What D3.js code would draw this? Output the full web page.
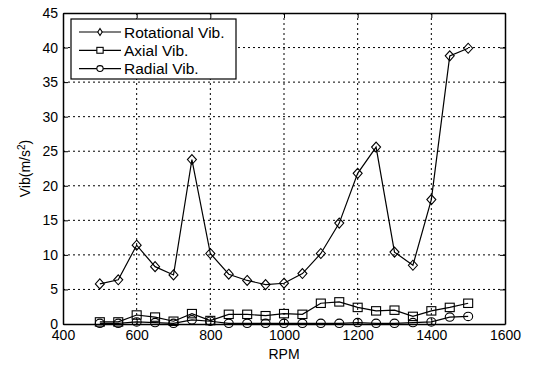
<!DOCTYPE html>
<html>
<head>
<meta charset="utf-8">
<script src="https://cdn.jsdelivr.net/npm/d3@7"></script>
<style>
  body { margin: 0; background: #fff; }
  text { font-family: "Liberation Sans", Arial, sans-serif; }
</style>
</head>
<body>
<svg id="drawspace" width="535" height="365"></svg>
<script>
let drawSpace = d3.select("#drawspace");

let rpm = [500, 550, 600, 650, 700, 750, 800, 850, 900, 950, 1000,
  1050, 1100, 1150, 1200, 1250, 1300, 1350, 1400, 1450, 1500];
let rotational = [5.8, 6.4, 11.4, 8.3, 7.1, 23.8, 10.2, 7.2, 6.3, 5.7, 5.9,
  7.3, 10.2, 14.6, 21.8, 25.6, 10.4, 8.5, 18.0, 38.8, 39.9];
let axial = [0.3, 0.3, 1.3, 1.0, 0.4, 1.5, 0.5, 1.4, 1.4, 1.2, 1.5,
  1.4, 3.0, 3.2, 2.4, 1.9, 2.0, 1.1, 1.9, 2.4, 3.0];
let radial = [0.1, 0.1, 0.3, 0.2, 0.1, 0.6, 0.4, 0.1, 0.1, 0.1, 0.1,
  0.1, 0.1, 0.1, 0.2, 0.1, 0.1, 0.2, 0.3, 1.0, 1.1];
let seriesNames = ["Rotational Vib.", "Axial Vib.", "Radial Vib."];
let seriesMarks = ["diamond", "square", "circle"];
let xTicks = [400, 600, 800, 1000, 1200, 1400, 1600];
let yTicks = [0, 5, 10, 15, 20, 25, 30, 35, 40, 45];

let pLeft = 63, pRight = 505, pTop = 13, pBottom = 324;

let x = d3.scaleLinear().domain([400, 1600]).range([pLeft, pRight]);
let y = d3.scaleLinear().domain([0, 45]).range([pBottom, pTop]);

// grid
let grid = drawSpace.append("g");
grid.selectAll(".gx").data(xTicks.slice(1, -1)).enter().append("line")
  .attr("x1", d => x(d)).attr("x2", d => x(d))
  .attr("y1", pTop).attr("y2", pBottom)
  .attr("stroke", "black").attr("stroke-width", 1).attr("stroke-dasharray", "2,3");
grid.selectAll(".gy").data(yTicks.slice(1, -1)).enter().append("line")
  .attr("x1", pLeft).attr("x2", pRight)
  .attr("y1", d => y(d)).attr("y2", d => y(d))
  .attr("stroke", "black").attr("stroke-width", 1).attr("stroke-dasharray", "2,3");

// axes, ticks inward like matlab
let axFont = "14px";
let xAxis = drawSpace.append("g").attr("transform", `translate(0,${pBottom})`)
  .call(d3.axisBottom(x).tickValues(xTicks).tickFormat(d3.format("d"))
    .tickSize(-5).tickPadding(6).tickSizeOuter(0));
let xTop = drawSpace.append("g").attr("transform", `translate(0,${pTop})`)
  .call(d3.axisTop(x).tickValues(xTicks).tickSize(-5).tickFormat("").tickSizeOuter(0));
let yAxis = drawSpace.append("g").attr("transform", `translate(${pLeft},0)`)
  .call(d3.axisLeft(y).tickValues(yTicks).tickSize(-5).tickPadding(9).tickSizeOuter(0));
let yRight = drawSpace.append("g").attr("transform", `translate(${pRight},0)`)
  .call(d3.axisRight(y).tickValues(yTicks).tickSize(-5).tickFormat("").tickSizeOuter(0));
[xAxis, xTop, yAxis, yRight].forEach(g => {
  g.select(".domain").attr("stroke", "black").attr("stroke-width", 1.5);
  g.selectAll(".tick line").attr("stroke", "black");
  g.selectAll("text").style("font-size", axFont).attr("fill", "black")
    .style("font-family", "Liberation Sans, Arial, sans-serif");
});
yAxis.selectAll("text").attr("dx", "4px");

// labels
drawSpace.append("text").attr("x", (pLeft + pRight) / 2).attr("y", 359)
  .attr("text-anchor", "middle").style("font-size", "14px").text("RPM");
let yl = drawSpace.append("text")
  .attr("transform", `translate(30,${(pTop + pBottom) / 2}) rotate(-90)`)
  .attr("text-anchor", "middle").style("font-size", "14px");
yl.append("tspan").text("Vib(m/s");
yl.append("tspan").attr("baseline-shift", "super").style("font-size", "10px").text("2");
yl.append("tspan").text(")");

// marker symbols
function marker(g, type, cx, cy, s) {
  if (type === "diamond") {
    g.append("path").attr("d", `M${cx},${cy - 5 * s}L${cx + 4.5 * s * s},${cy}L${cx},${cy + 5 * s}L${cx - 4.5 * s * s},${cy}Z`);
  } else if (type === "square") {
    g.append("rect").attr("x", cx - 4.5 * s).attr("y", cy - 4.2 * s)
      .attr("width", 9 * s).attr("height", 8.4 * s);
  } else {
    g.append("ellipse").attr("cx", cx).attr("cy", cy).attr("rx", 4.5 * s).attr("ry", 4.2 * s);
  }
}

let allSeries = [rotational, axial, radial];
let line = d3.line().x((d, i) => x(rpm[i])).y(d => y(d));

allSeries.forEach((vals, k) => {
  drawSpace.append("path").datum(vals).attr("d", line)
    .attr("fill", "none").attr("stroke", "black").attr("stroke-width", 1.2);
  let mg = drawSpace.append("g").attr("fill", "none").attr("stroke", "black").attr("stroke-width", 1.1);
  vals.forEach((v, i) => marker(mg, seriesMarks[k], x(rpm[i]), y(v), 1));
});

// legend
let lg = drawSpace.append("g");
lg.append("rect").attr("x", 71).attr("y", 19).attr("width", 165).attr("height", 60)
  .attr("fill", "white").attr("stroke", "black").attr("stroke-width", 1.2);
seriesNames.forEach((name, k) => {
  let ly = 32 + k * 18.3;
  lg.append("line").attr("x1", 79).attr("x2", 121).attr("y1", ly).attr("y2", ly)
    .attr("stroke", "black").attr("stroke-width", 1.2);
  let mg = lg.append("g").attr("fill", "white").attr("stroke", "black").attr("stroke-width", 1.1);
  marker(mg, seriesMarks[k], 100, ly, 0.7);
  lg.append("text").attr("x", 124).attr("y", ly + 5.5).style("font-size", "15.5px").text(name);
});
</script>
</body>
</html>
